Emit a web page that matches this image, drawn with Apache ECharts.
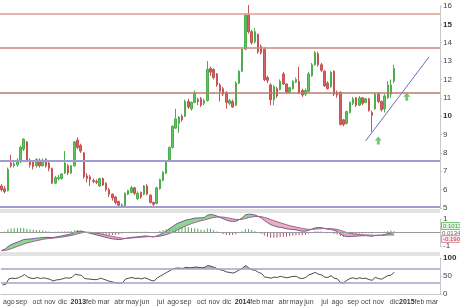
<!DOCTYPE html>
<html><head><meta charset="utf-8">
<script src="https://cdn.jsdelivr.net/npm/echarts@6/dist/echarts.min.js"></script>
<style>html,body{margin:0;padding:0;background:#fff}#c{width:460px;height:308px}</style>
</head><body><div id="c"></div>
<script>
// ---- data (weekly) ----
const startDate = '2012-07-16';
const weekCount = 139;
const monthNames = ['ene','feb','mar','abr','may','jun','jul','ago','sep','oct','nov','dic'];
// [open, close, low, high]
const ohlc = [
[6.2,6.0,5.9,6.3],[6.05,5.9,5.8,6.2],[5.95,7.1,5.9,7.2],[7.45,7.3,7.2,7.9],[7.3,7.4,7.2,7.6],
[7.35,7.6,7.25,7.7],[7.5,8.3,7.45,8.4],[8.2,8.75,8.1,8.8],[8.6,7.6,7.5,8.65],[7.6,7.35,7.2,7.7],
[7.5,7.25,7.1,7.6],[7.3,7.65,7.2,7.7],[7.6,7.3,7.2,7.7],[7.3,7.6,7.25,7.7],[7.65,7.3,7.2,7.7],
[7.45,7.15,7.0,7.5],[7.15,6.35,6.3,7.2],[6.35,6.65,6.3,6.75],[6.6,6.65,6.5,6.8],[6.6,6.85,6.55,6.9],
[6.9,7.45,6.85,8.1],[7.3,6.9,6.8,7.4],[6.9,7.3,6.85,7.35],[7.3,8.6,7.25,8.65],[8.7,8.3,8.2,8.85],
[8.4,8.1,8.0,8.5],[8.0,6.7,6.6,8.05],[6.75,6.6,6.4,6.9],[6.7,6.55,6.2,6.8],[6.5,6.45,6.35,6.6],
[6.45,6.4,6.3,6.55],[6.2,6.6,6.15,6.65],[6.6,6.25,6.2,6.65],[6.35,6.0,5.9,6.4],[6.0,5.75,5.6,6.1],
[5.75,5.55,5.4,5.8],[5.6,5.3,5.2,5.65],[5.35,5.15,5.05,5.4],[5.15,5.1,5.0,5.25],[5.1,5.8,5.05,5.85],
[5.75,5.95,5.7,6.0],[5.85,6.1,5.8,6.2],[6.1,5.8,5.7,6.15],[5.5,5.8,5.45,5.9],[5.85,5.6,5.5,5.9],
[5.75,6.2,5.7,6.25],[6.2,5.75,5.7,6.3],[5.7,5.3,5.25,5.75],[5.3,5.2,5.1,5.35],[5.25,6.1,5.2,6.15],
[6.05,6.55,6.0,6.6],[6.5,6.95,6.45,7.0],[6.9,7.55,6.85,7.6],[7.55,8.3,7.5,8.35],[8.3,9.45,8.25,9.5],
[9.35,9.85,9.3,10.4],[9.6,9.95,9.1,10.0],[10.0,9.8,9.7,10.1],[10.0,10.8,9.95,10.9],[10.8,10.5,10.4,10.95],
[10.4,10.75,10.3,10.8],[10.75,11.25,10.7,11.4],[10.9,10.8,10.6,11.0],[10.95,10.6,10.5,11.05],[10.7,10.85,10.6,10.95],
[10.85,12.55,10.8,13.0],[12.6,12.4,12.2,12.7],[12.55,12.1,12.0,12.6],[12.3,11.7,11.6,12.35],[11.7,11.35,10.8,11.8],
[11.5,11.2,11.1,11.6],[11.3,10.75,10.4,11.35],[10.7,10.85,10.6,10.95],[10.8,10.5,10.45,10.9],[10.6,11.8,10.55,11.9],
[11.8,12.45,11.75,12.5],[12.45,13.65,12.4,13.7],[13.65,15.5,13.6,15.6],[15.5,14.6,14.5,16.05],[14.6,14.0,13.9,14.7],
[14.05,14.6,13.95,14.8],[14.45,13.5,13.4,14.5],[13.8,13.45,13.35,13.9],[13.65,12.0,11.9,13.75],[12.1,11.95,11.8,12.2],
[11.7,10.9,10.6,11.8],[10.9,11.6,10.6,11.7],[11.5,11.1,11.0,11.6],[11.45,11.9,11.4,12.0],[12.3,11.75,11.7,12.4],
[11.75,11.3,11.2,11.8],[11.3,11.55,11.2,11.6],[11.5,11.9,11.45,11.95],[11.85,12.0,11.8,12.1],[11.9,11.25,11.2,12.7],
[11.4,11.15,11.05,11.5],[11.2,11.4,11.1,11.5],[11.35,12.3,11.3,12.4],[12.2,12.8,12.15,12.9],[12.8,13.45,12.75,13.55],
[13.4,12.8,12.7,13.5],[12.8,12.5,12.4,12.9],[12.45,11.65,11.6,12.5],[11.8,11.5,11.45,11.9],[11.6,12.4,11.55,12.45],
[12.45,11.2,11.1,12.5],[11.3,11.15,11.0,11.4],[11.3,9.55,9.5,11.35],[9.8,9.55,9.45,9.85],[9.6,10.25,9.55,10.3],
[10.2,10.75,10.15,10.8],[10.7,10.95,10.6,11.05],[11.0,10.6,10.5,11.05],[10.6,11.0,10.55,11.1],[11.0,10.7,10.6,11.05],
[10.75,10.95,10.7,11.0],[10.95,10.3,10.25,11.0],[10.2,10.05,9.15,10.3],[10.4,11.2,10.35,11.3],[11.2,10.8,10.7,11.3],
[10.8,10.35,10.25,10.85],[10.4,11.1,10.2,11.2],[11.0,11.7,10.95,11.9],[11.2,11.7,11.0,12.0],[11.9,12.605,11.8,12.8]
];
const levelsRed = [15.6, 13.7, 11.3];
const levelsBlue = [7.6, 5.05];
const trendIdx = [115, 135];
const trendVal = [8.65, 13.22];
const arrowIdx = [119, 128];
const arrowVal = [8.68, 11.06];
const lastPriceLabel = '12.605';

const macd = [
-1.33,-1.25,-1.05,-0.9,-0.8,-0.72,-0.62,-0.52,-0.5,-0.48,
-0.46,-0.42,-0.4,-0.37,-0.36,-0.36,-0.38,-0.34,-0.3,-0.26,
-0.2,-0.16,-0.1,0.0,0.08,0.1,0.05,0.0,-0.06,-0.12,
-0.18,-0.24,-0.3,-0.36,-0.42,-0.47,-0.5,-0.52,-0.5,-0.44,
-0.4,-0.36,-0.34,-0.32,-0.3,-0.26,-0.26,-0.3,-0.33,-0.26,
-0.16,-0.04,0.1,0.26,0.44,0.6,0.72,0.8,0.9,0.96,
1.0,1.06,1.08,1.08,1.1,1.28,1.33,1.3,1.22,1.12,
1.02,0.92,0.86,0.82,0.84,0.94,1.08,1.3,1.36,1.34,
1.3,1.2,1.08,0.9,0.74,0.58,0.5,0.42,0.38,0.34,
0.28,0.24,0.22,0.2,0.14,0.1,0.1,0.16,0.24,0.34,
0.36,0.36,0.3,0.24,0.24,0.16,0.08,-0.1,-0.24,-0.3,
-0.3,-0.28,-0.27,-0.25,-0.24,-0.23,-0.25,-0.28,-0.22,-0.2,
-0.2,-0.15,-0.08,-0.04,0.0134
];
const signal = [
-1.35,-1.33,-1.28,-1.2,-1.12,-1.03,-0.95,-0.86,-0.78,-0.72,
-0.66,-0.61,-0.56,-0.51,-0.47,-0.44,-0.42,-0.4,-0.37,-0.34,
-0.3,-0.26,-0.22,-0.16,-0.1,-0.04,0.0,0.02,0.01,-0.02,
-0.06,-0.1,-0.14,-0.19,-0.24,-0.29,-0.34,-0.38,-0.42,-0.44,
-0.43,-0.41,-0.39,-0.37,-0.35,-0.33,-0.31,-0.3,-0.3,-0.3,
-0.27,-0.22,-0.16,-0.08,0.02,0.13,0.25,0.36,0.47,0.57,
0.66,0.74,0.81,0.87,0.92,0.99,1.06,1.11,1.14,1.15,
1.14,1.1,1.06,1.01,0.97,0.96,0.98,1.04,1.1,1.15,
1.18,1.19,1.17,1.12,1.05,0.96,0.88,0.8,0.72,0.65,
0.58,0.51,0.45,0.4,0.35,0.3,0.26,0.24,0.23,0.25,
0.27,0.29,0.3,0.29,0.28,0.26,0.23,0.16,0.08,0.0,
-0.06,-0.1,-0.13,-0.16,-0.17,-0.18,-0.19,-0.2,-0.21,-0.21,
-0.21,-0.2,-0.19,-0.18,-0.1906
];
const hist = [
0.02,0.08,0.23,0.3,0.32,0.31,0.33,0.34,0.28,0.24,
0.2,0.19,0.16,0.14,0.11,0.08,0.04,0.06,0.07,0.08,
0.1,0.1,0.12,0.16,0.18,0.14,0.05,-0.02,-0.07,-0.1,
-0.12,-0.14,-0.16,-0.17,-0.18,-0.18,-0.16,-0.14,-0.08,0.0,
0.03,0.05,0.05,0.05,0.05,0.07,0.05,0.0,-0.03,0.04,
0.11,0.18,0.26,0.34,0.42,0.47,0.47,0.44,0.43,0.39,
0.34,0.32,0.27,0.21,0.18,0.29,0.27,0.19,0.08,-0.03,
-0.12,-0.18,-0.2,-0.19,-0.13,-0.02,0.1,0.26,0.26,0.19,
0.12,0.01,-0.09,-0.22,-0.31,-0.38,-0.38,-0.38,-0.34,-0.31,
-0.3,-0.27,-0.23,-0.2,-0.21,-0.2,-0.16,-0.08,0.01,0.09,
0.09,0.07,0.0,-0.05,-0.04,-0.1,-0.15,-0.26,-0.32,-0.3,
-0.24,-0.18,-0.14,-0.09,-0.07,-0.05,-0.06,-0.08,-0.01,0.01,
0.01,0.05,0.11,0.14,0.1013
];
const macdSideLabels = ['0.1013', '0.0134', '-0.1906'];
const rsi = [
25,27,42,44,43,45,49,54,47,44,
43,46,43,45,43,41,36,39,40,42,
45,44,46,55,53,52,43,42,41,40,
40,44,41,38,35,33,31,30,31,42,
44,46,43,44,42,45,42,38,36,45,
50,55,60,65,70,72,72,71,74,73,
73,75,74,73,74,79,77,74,70,67,
65,61,60,58,62,67,72,79,72,67,
66,60,57,47,46,44,47,46,49,47,
45,47,49,49,44,43,46,53,56,60,
55,53,47,46,51,44,42,32,31,38,
43,45,42,45,43,44,40,38,46,43,
41,46,51,52,60.767
];
const rsiLevels = [70, 30];

// ---- build ----
const DAY = 864e5;
const t0 = Date.parse(startDate + 'T00:00:00Z');
const cats = [];
const xLabels = [];
for (let i = 0; i < weekCount; i++) {
  const d = new Date(t0 + i * 7 * DAY);
  const e = new Date(t0 + (i * 7 + 6) * DAY);
  cats.push(d.toISOString().slice(0, 10));
  let lab = null;
  if (d.getUTCDate() === 1 || e.getUTCMonth() !== d.getUTCMonth()) {
    const m = d.getUTCDate() === 1 ? d : e;
    lab = m.getUTCMonth() === 0 ? '{y|' + m.getUTCFullYear() + '}' : monthNames[m.getUTCMonth()];
  }
  xLabels.push(lab);
}
const mBase = macd.map((v, i) => Math.min(v, signal[i]));
const mUp = macd.map((v, i) => Math.max(v - signal[i], 0));
const mDn = macd.map((v, i) => Math.max(signal[i] - v, 0));
const rsiHigh = rsi.map(v => Math.max(v, 70));

const FONT = 'Liberation Sans, Arial, sans-serif';
const AX = '#c8c8c8';
const LBL = '#444';
const grids = [
  {left: 0, right: 20, top: 6, height: 202},
  {left: 0, right: 20, top: 219, height: 27},
  {left: 0, right: 20, top: 258, height: 36}
];
const xAxes = [0, 1, 2].map(g => ({
  type: 'category', gridIndex: g, data: cats, boundaryGap: true,
  axisLine: {show: g === 2, lineStyle: {color: AX}},
  axisTick: {show: false}, splitLine: {show: false},
  axisLabel: g === 2 ? {
    show: true, interval: (i) => xLabels[i] !== null, formatter: (v, i) => xLabels[i] || '',
    hideOverlap: false, showMinLabel: true, showMaxLabel: true,
    fontSize: 7, color: LBL, margin: 5, fontFamily: FONT,
    rich: {y: {fontSize: 7, fontWeight: 'bold', color: '#333', fontFamily: FONT}}
  } : {show: false}
}));
const yBase = {
  position: 'right', splitLine: {show: false},
  axisLine: {show: true, lineStyle: {color: AX}},
  axisTick: {show: true, length: 2, lineStyle: {color: AX}},
  axisLabel: {fontSize: 8, color: LBL, margin: 3, fontFamily: FONT}
};
const yAxes = [
  Object.assign({}, yBase, {gridIndex: 0, min: 5, max: 16, interval: 1,
    axisLabel: Object.assign({}, yBase.axisLabel, {
      formatter: v => (v === 15 || v === 10) ? '{b|' + v + '}' : String(v),
      rich: {b: {fontWeight: 'bold', fontSize: 8, color: '#333', fontFamily: FONT}}})}),
  Object.assign({}, yBase, {gridIndex: 1, min: -1, max: 1, interval: 1,
    axisLabel: Object.assign({}, yBase.axisLabel, {formatter: v => v === 0 ? '' : String(v)})}),
  Object.assign({}, yBase, {gridIndex: 2, min: 0, max: 100, interval: 50,
    axisLabel: Object.assign({}, yBase.axisLabel, {
      formatter: v => v === 100 ? '{b|100}' : String(v),
      rich: {b: {fontWeight: 'bold', fontSize: 8, color: '#333', fontFamily: FONT}}})})
];

const redCols = ['#dc9c8e', '#c98a80', '#b87a6c'];
const priceMarks = levelsRed.map((v, k) => ({yAxis: v, lineStyle: {color: redCols[k], width: 1.5, type: 'solid'}}))
  .concat(levelsBlue.map(v => ({yAxis: v, lineStyle: {color: '#9d9dd2', width: 2, type: 'solid'}})))
  .concat([{yAxis: ohlc[ohlc.length - 1][1], lineStyle: {opacity: 0},
    label: {show: true, position: 'end', distance: 1, formatter: lastPriceLabel, fontSize: 7,
      color: '#333', backgroundColor: '#f3c545', padding: [1, 1], fontFamily: FONT}}]);

const series = [
  {type: 'candlestick', xAxisIndex: 0, yAxisIndex: 0, data: ohlc, clip: false, barWidth: 2,
    itemStyle: {color: '#5fc45f', color0: '#d66262', borderColor: '#4cae4c', borderColor0: '#c45454', borderWidth: 1},
    markLine: {silent: true, symbol: 'none', animation: false, label: {show: false}, data: priceMarks}},
  {type: 'line', xAxisIndex: 0, yAxisIndex: 0, symbol: 'none', silent: true,
    data: trendIdx.map((ix, k) => [cats[ix], trendVal[k]]),
    lineStyle: {color: '#6d6dbf', width: 1}},
  {type: 'scatter', xAxisIndex: 0, yAxisIndex: 0, silent: true,
    symbol: 'path://M5,0 L10,5 L7,5 L7,10 L3,10 L3,5 L0,5 Z', symbolSize: [7, 8],
    data: arrowIdx.map((ix, k) => [cats[ix], arrowVal[k]]),
    itemStyle: {color: '#4fb84f'}},
  // MACD fill
  {type: 'line', xAxisIndex: 1, yAxisIndex: 1, stack: 'm', stackStrategy: 'all', data: mBase,
    symbol: 'none', lineStyle: {width: 0, opacity: 0}, silent: true, clip: false},
  {type: 'line', xAxisIndex: 1, yAxisIndex: 1, stack: 'm', stackStrategy: 'all', data: mUp,
    symbol: 'none', lineStyle: {width: 0, opacity: 0}, areaStyle: {color: '#7ccf7c', opacity: 0.85}, silent: true, clip: false},
  {type: 'line', xAxisIndex: 1, yAxisIndex: 1, stack: 'm', stackStrategy: 'all', data: mDn,
    symbol: 'none', lineStyle: {width: 0, opacity: 0}, areaStyle: {color: '#e8a2b2', opacity: 0.85}, silent: true, clip: false},
  {type: 'bar', xAxisIndex: 1, yAxisIndex: 1, data: hist, barWidth: 1, silent: true,
    itemStyle: {color: p => p.value >= 0 ? '#4caf50' : '#b04868'},
    markLine: {silent: true, symbol: 'none', animation: false, label: {show: false},
      data: [{yAxis: 0, lineStyle: {color: '#9a9a9a', width: 1, type: 'solid'}}]}},
  {type: 'line', xAxisIndex: 1, yAxisIndex: 1, data: macd, symbol: 'none', clip: false, silent: true,
    lineStyle: {color: '#6a5a9a', width: 1}},
  {type: 'line', xAxisIndex: 1, yAxisIndex: 1, data: signal, symbol: 'none', clip: false, silent: true,
    lineStyle: {color: '#a06088', width: 1}},
  // RSI
  {type: 'line', xAxisIndex: 2, yAxisIndex: 2, data: rsiHigh, symbol: 'none', silent: true,
    lineStyle: {width: 0, opacity: 0}, areaStyle: {origin: 70, color: '#c8a0cc', opacity: 0.9}},
  {type: 'line', xAxisIndex: 2, yAxisIndex: 2, data: rsi, symbol: 'none', silent: true,
    lineStyle: {color: '#4a4a4a', width: 1},
    markLine: {silent: true, symbol: 'none', animation: false, label: {show: false},
      data: rsiLevels.map(v => ({yAxis: v, lineStyle: {color: '#a3a3c8', width: 1.5, type: 'solid'}})).concat([
        {yAxis: rsi[rsi.length - 1], lineStyle: {opacity: 0},
          label: {show: true, position: 'end', distance: 1, formatter: String(rsi[rsi.length - 1]), fontSize: 7,
            color: '#555', backgroundColor: '#f4f4f4', borderColor: '#aaa', borderWidth: 1, padding: [0, 1], fontFamily: FONT}}])}}
];

const chart = echarts.init(document.getElementById('c'), null, {renderer: 'canvas'});
chart.setOption({
  animation: false,
  backgroundColor: '#fff',
  textStyle: {fontFamily: FONT},
  grid: grids, xAxis: xAxes, yAxis: yAxes, series: series,
  graphic: [
    {type: 'rect', shape: {x: 0, y: 209, width: 440, height: 4}, style: {fill: '#e3e3e3'}, silent: true},
    {type: 'rect', shape: {x: 0, y: 252, width: 440, height: 4}, style: {fill: '#e3e3e3'}, silent: true},
    {type: 'text', x: 442, y: 223, style: {text: macdSideLabels[0], fontSize: 6, fill: '#3a9a3a', backgroundColor: '#e2f5e2', borderColor: '#7cc47c', borderWidth: 1, padding: [0, 1], fontFamily: FONT}, silent: true},
    {type: 'text', x: 442, y: 230, style: {text: macdSideLabels[1], fontSize: 6, fill: '#666', fontFamily: FONT}, silent: true},
    {type: 'text', x: 442, y: 236, style: {text: macdSideLabels[2], fontSize: 6, fill: '#c04050', backgroundColor: '#fbe3e6', borderColor: '#e09aa6', borderWidth: 1, padding: [0, 1], fontFamily: FONT}, silent: true}
  ]
});
</script>
</body></html>
